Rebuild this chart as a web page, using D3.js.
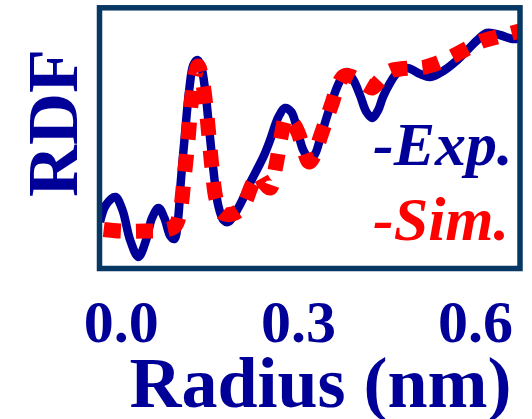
<!DOCTYPE html>
<html>
<head>
<meta charset="utf-8">
<script src="https://cdn.jsdelivr.net/npm/d3@7"></script>
<style>
  body { margin: 0; background: #fff; }
  svg { display: block; }
</style>
</head>
<body>
<svg id="chart"></svg>
<script>
var width = 532, height = 419

// radius (nm) and RDF values
var expR = [-0.035, -0.025, -0.009, 0.003, 0.016, 0.030, 0.043, 0.053, 0.064, 0.074, 0.084, 0.091,
    0.097, 0.102, 0.109, 0.116, 0.123, 0.130, 0.136, 0.143, 0.150, 0.157, 0.165, 0.174, 0.182,
    0.194, 0.206, 0.219, 0.233, 0.243, 0.253, 0.267, 0.278, 0.289, 0.299, 0.309, 0.319, 0.328,
    0.338, 0.350, 0.360, 0.372, 0.383, 0.394, 0.405, 0.416, 0.426, 0.436, 0.444, 0.456, 0.468,
    0.485, 0.507, 0.524, 0.546, 0.570, 0.587, 0.604, 0.620, 0.642, 0.664, 0.676]
var expG = [0.46, 0.63, 0.71, 0.58, 0.28, 0.11, 0.28, 0.50, 0.60, 0.50, 0.32, 0.29,
    0.48, 0.88, 1.35, 1.78, 2.03, 2.08, 2.02, 1.78, 1.38, 0.98, 0.63, 0.48, 0.46,
    0.55, 0.68, 0.85, 1.01, 1.13, 1.28, 1.51, 1.60, 1.56, 1.38, 1.18, 1.10, 1.13,
    1.30, 1.53, 1.71, 1.88, 1.96, 1.88, 1.73, 1.56, 1.50, 1.58, 1.71, 1.85, 1.95,
    2.00, 1.94, 1.91, 1.97, 2.08, 2.18, 2.28, 2.35, 2.33, 2.29, 2.30]

var simR = [-0.035, -0.001, 0.041, 0.075, 0.092, 0.101, 0.107, 0.114, 0.119, 0.126, 0.131, 0.138,
    0.145, 0.150, 0.155, 0.162, 0.172, 0.189, 0.206, 0.223, 0.233, 0.243, 0.253, 0.263, 0.272,
    0.280, 0.290, 0.300, 0.311, 0.319, 0.328, 0.338, 0.348, 0.358, 0.368, 0.378, 0.388, 0.402,
    0.416, 0.426, 0.439, 0.456, 0.473, 0.493, 0.515, 0.541, 0.566, 0.588, 0.612, 0.637, 0.663, 0.676]
var simG = [0.39, 0.37, 0.37, 0.38, 0.42, 0.58, 0.88, 1.28, 1.63, 1.93, 2.02, 1.88,
    1.58, 1.28, 0.98, 0.68, 0.55, 0.54, 0.61, 0.84, 0.93, 0.85, 0.80, 1.03, 1.33,
    1.50, 1.46, 1.36, 1.16, 1.06, 1.13, 1.31, 1.48, 1.65, 1.83, 1.92, 1.92, 1.88,
    1.83, 1.80, 1.88, 1.97, 1.99, 2.00, 2.01, 2.06, 2.13, 2.20, 2.27, 2.31, 2.35, 2.37]

var xTicks = [0.0, 0.3, 0.6]

var navy = "#000099", red = "#ff0000", frame = "#073763"
var font = "'Liberation Serif', 'Times New Roman', serif"

var svg = d3.select("#chart")
    .attr("width", width)
    .attr("height", height)

var x = d3.scaleLinear()
    .domain([-0.035, 0.676])
    .range([100, 520])
var y = d3.scaleLinear()
    .domain([0, 2.6])
    .range([268, 8])

svg.append("clipPath")
    .attr("id", "plot")
  .append("rect")
    .attr("x", 100).attr("y", 8)
    .attr("width", 420).attr("height", 260.5)

var line = d3.line()
    .x(function(d) { return x(d[0]) })
    .y(function(d) { return y(d[1]) })
    .curve(d3.curveCatmullRom)

var g = svg.append("g").attr("clip-path", "url(#plot)")

g.append("path")
    .datum(d3.zip(expR, expG))
    .attr("d", line)
    .attr("fill", "none")
    .attr("stroke", navy)
    .attr("stroke-width", 8.5)

g.append("path")
    .datum(d3.zip(simR, simG))
    .attr("d", line)
    .attr("fill", "none")
    .attr("stroke", red)
    .attr("stroke-width", 15)
    .attr("stroke-dasharray", "17,15")
    .attr("stroke-dashoffset", -4)

// frame
svg.append("rect")
    .attr("x", 99.5).attr("y", 7.8)
    .attr("width", 420.5).attr("height", 260.7)
    .attr("fill", "none")
    .attr("stroke", frame)
    .attr("stroke-width", 5.5)

// x tick labels, no tick marks
var xAxis = d3.axisBottom(x)
    .tickValues(xTicks)
    .tickFormat(d3.format(".1f"))
    .tickSize(0)
var ax = svg.append("g")
    .attr("transform", "translate(0,268)")
    .call(xAxis)
ax.select(".domain").remove()
ax.selectAll("text")
    .attr("y", 74)
    .attr("dy", 0)
    .attr("fill", navy)
    .style("font-family", font)
    .style("font-weight", "bold")
    .style("font-size", "60px")

svg.append("text")
    .attr("x", 320.5).attr("y", 407)
    .attr("text-anchor", "middle")
    .attr("fill", navy)
    .style("font-family", font)
    .style("font-weight", "bold")
    .style("font-size", "72px")
    .text("Radius (nm)")

svg.append("text")
    .attr("transform", "translate(77,123) rotate(-90)")
    .attr("text-anchor", "middle")
    .attr("fill", navy)
    .style("font-family", font)
    .style("font-weight", "bold")
    .style("font-size", "72px")
    .text("RDF")

// legend
var legend = [["-Exp.", navy, 165], ["-Sim.", red, 240]]
legend.forEach(function(l) {
    svg.append("text")
        .attr("x", 373).attr("y", l[2])
        .attr("fill", l[1])
        .style("font-family", font)
        .style("font-weight", "bold")
        .style("font-style", "italic")
        .style("font-size", "62px")
        .text(l[0])
})
</script>
</body>
</html>
